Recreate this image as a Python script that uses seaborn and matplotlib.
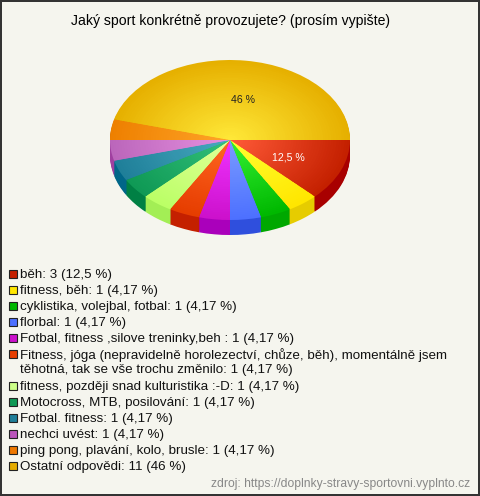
import matplotlib
matplotlib.use("Agg")
import matplotlib.pyplot as plt
from matplotlib.patches import Rectangle
import seaborn as sns

labels = ["běh: 3 (12,5 %)", "fitness, běh: 1 (4,17 %)", "cyklistika, volejbal, fotbal: 1 (4,17 %)",
          "florbal: 1 (4,17 %)", "Fotbal, fitness ,silove treninky,beh : 1 (4,17 %)",
          "Fitness, jóga (nepravidelně horolezectví, chůze, běh), momentálně jsem\ntěhotná, tak se vše trochu změnilo: 1 (4,17 %)",
          "fitness, později snad kulturistika :-D: 1 (4,17 %)", "Motocross, MTB, posilování: 1 (4,17 %)",
          "Fotbal. fitness: 1 (4,17 %)", "nechci uvést: 1 (4,17 %)",
          "ping pong, plavání, kolo, brusle: 1 (4,17 %)", "Ostatní odpovědi: 11 (46 %)"]
values = [3, 1, 1, 1, 1, 1, 1, 1, 1, 1, 1, 11]
inner = ["#ff5a38", "#ffff30", "#33f033", "#7a9cff", "#f033ff", "#ff6622",
         "#e0ff9a", "#33c07a", "#48aac0", "#e690e0", "#ffa428", "#ffe838"]
outer = ["#c42000", "#ffe600", "#00b800", "#4d70ff", "#cc11cc", "#e63d00",
         "#bbff66", "#0f9955", "#1f7f99", "#bb66bb", "#ee8000", "#e6b000"]
side = ["#a80000", "#e6cc00", "#00a800", "#2f4fdd", "#aa00bb", "#c42000",
        "#a3ee55", "#008044", "#006688", "#a040a0", "#c86a00", "#c89600"]
swatch = ["#c42000", "#ffe600", "#00b800", "#4d70ff", "#cc11cc", "#e63d00",
          "#ccff88", "#0f9955", "#1f7f99", "#bb55bb", "#ee7700", "#e6ac00"]

BG = "#f5f5ee"
sns.set_theme(style="white", rc={"figure.facecolor": BG, "axes.facecolor": BG})
plt.rcParams["font.family"] = ["Liberation Sans", "DejaVu Sans"]

W, H = 480, 496
cx, cy, rx, ry, depth = 230, 140, 120, 80, 15
fig = plt.figure(figsize=(W / 100, H / 100), dpi=100, facecolor=BG)
ax = fig.add_axes([0, 0, 1, 1])

for d in range(depth, 0, -1):
    ax.pie(values, colors=side, startangle=0, counterclock=False, radius=1,
           center=(0, -d / ry), wedgeprops={"linewidth": 0})

n = 45
ramps = [sns.blend_palette([o, i], n) for o, i in zip(outer, inner)]
for k in range(n):
    ax.pie(values, colors=[r[k] for r in ramps], startangle=0, counterclock=False,
           radius=1 - k / n, wedgeprops={"linewidth": 0})

ax.set_aspect("auto")
ax.set_xlim(-cx / rx, (W - cx) / rx)
ax.set_ylim((cy - H) / ry, cy / ry)
ax.axis("off")

ax.text(13 / rx, 40 / ry, "46 %", color="#222222", fontsize=7.6, ha="center", va="center")
ax.text(58 / rx, -17 / ry, "12,5 %", color="white", fontsize=7.6, ha="center", va="center")

fig.text(230.5 / W, 1 - 20.5 / H, "Jaký sport konkrétně provozujete? (prosím vypište)",
         fontsize=10.1, color="black", ha="center", va="center")
fig.text(470 / W, 1 - 484 / H, "zdroj: https://doplnky-stravy-sportovni.vyplnto.cz",
         fontsize=8.75, color="#888888", ha="right", va="center")

# legend rows: 16 px pitch, wrapped lines 15 px
y = 273.5
for label, colour in zip(labels, swatch):
    fig.add_artist(Rectangle((9 / W, 1 - (y + 4) / H), 8 / W, 8 / H, transform=fig.transFigure,
                             facecolor=colour, edgecolor="#222222", linewidth=0.8))
    for j, line in enumerate(label.split("\n")):
        fig.text(20 / W, 1 - (y + 15 * j) / H, line, fontsize=9.64, color="#111111",
                 ha="left", va="center_baseline")
    y += 16 + 16 * label.count("\n")

fig.patch.set_edgecolor("#333333")
fig.patch.set_linewidth(1.5)
fig.savefig("out.png", dpi=100, facecolor=BG, edgecolor="#333333")
